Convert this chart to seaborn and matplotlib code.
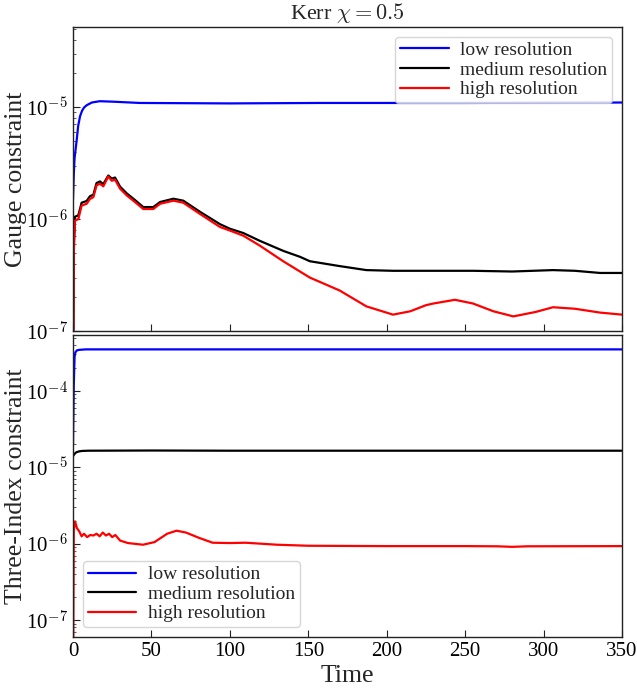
import numpy as np
import pandas as pd
import matplotlib
matplotlib.use("Agg")
import matplotlib.pyplot as plt
import matplotlib.ticker as mticker
import seaborn as sns

# ---------------- data ----------------
labels = ["low resolution", "medium resolution", "high resolution"]
colors = ["#0000ff", "#000000", "#ff0000"]

# Gauge constraint
t_gauge_low = [0, 0.5, 1, 2.3, 3.3, 4.5, 5.8, 7, 8.7, 12, 17, 25, 42.7, 100,
               157, 250, 350]
gauge_low = [1.5e-6, 2.5e-6, 3.5e-6, 5e-6, 6.8e-6, 8.3e-6, 9.3e-6, 9.9e-6,
             1.04e-5, 1.1e-5, 1.13e-5, 1.12e-5, 1.09e-5, 1.08e-5, 1.09e-5,
             1.09e-5, 1.1e-5]

t_gauge_med = [0, 0.5, 1.3, 3.4, 5.5, 8.7, 10.8, 13, 15, 17.2, 19.3, 22.5, 24.7,
               26.8, 30, 34.2, 39.5, 44.8, 51.2, 55.5, 64, 70.3, 81, 93.7, 100,
               108.6, 119, 134, 144.7, 151, 170, 187, 204, 230, 255, 280, 306,
               320, 336, 350]
gauge_med = [0.01e-6, 0.6e-6, 1.05e-6, 1.08e-6, 1.4e-6, 1.45e-6, 1.6e-6, 1.65e-6,
             2.1e-6, 2.17e-6, 2.05e-6, 2.45e-6, 2.3e-6, 2.35e-6, 1.95e-6, 1.7e-6,
             1.48e-6, 1.28e-6, 1.28e-6, 1.42e-6, 1.52e-6, 1.46e-6, 1.16e-6, 0.9e-6,
             0.82e-6, 0.75e-6, 0.64e-6, 0.52e-6, 0.46e-6, 0.42e-6, 0.38e-6,
             0.35e-6, 0.345e-6, 0.345e-6, 0.345e-6, 0.34e-6, 0.35e-6, 0.345e-6,
             0.33e-6, 0.33e-6]

t_gauge_high = [0, 0.5, 1.3, 3.4, 5.5, 8.7, 10.8, 13, 15, 17.2, 19.3, 22.5, 24.7,
                26.8, 30, 34.2, 39.5, 44.8, 51.2, 55.5, 64, 70.3, 81, 93.7, 100,
                108.6, 119, 134, 151, 170, 187, 204, 215, 225, 229.7, 243.5, 255,
                268, 280.7, 295, 306, 320, 336, 350]
gauge_high = [0.01e-6, 0.5e-6, 0.97e-6, 1.0e-6, 1.32e-6, 1.37e-6, 1.51e-6, 1.57e-6,
              2.0e-6, 2.07e-6, 1.96e-6, 2.4e-6, 2.2e-6, 2.25e-6, 1.87e-6, 1.63e-6,
              1.42e-6, 1.23e-6, 1.23e-6, 1.37e-6, 1.46e-6, 1.40e-6, 1.11e-6,
              0.85e-6, 0.79e-6, 0.71e-6, 0.58e-6, 0.42e-6, 0.30e-6, 0.23e-6,
              0.166e-6, 0.14e-6, 0.15e-6, 0.17e-6, 0.176e-6, 0.19e-6, 0.176e-6,
              0.15e-6, 0.135e-6, 0.148e-6, 0.163e-6, 0.158e-6, 0.146e-6, 0.14e-6]

# Three-Index constraint
t_three_low = [0, 0.5, 1, 1.5, 2.5, 4, 8, 50, 350]
three_low = [2e-5, 1.2e-4, 2.8e-4, 3.2e-4, 3.4e-4, 3.45e-4, 3.5e-4, 3.5e-4, 3.5e-4]

t_three_med = [0, 1, 2, 4, 6, 10, 50, 100, 200, 350]
three_med = [1.4e-5, 1.5e-5, 1.57e-5, 1.62e-5, 1.64e-5, 1.65e-5, 1.66e-5,
             1.65e-5, 1.65e-5, 1.65e-5]

t_three_high = [0, 0.5, 1.3, 2.5, 4, 5.5, 7, 9, 11, 13, 15, 17, 19, 21, 23, 25, 27,
                30, 35, 44.6, 52, 60, 66, 72, 80, 89, 100, 110, 130, 150, 200,
                250, 270, 280, 290, 350]
three_high = [0.01e-6, 1.5e-6, 1.96e-6, 1.6e-6, 1.45e-6, 1.25e-6, 1.35e-6, 1.22e-6,
              1.3e-6, 1.28e-6, 1.35e-6, 1.25e-6, 1.4e-6, 1.28e-6, 1.35e-6, 1.22e-6,
              1.3e-6, 1.1e-6, 1.02e-6, 0.97e-6, 1.05e-6, 1.35e-6, 1.48e-6, 1.4e-6,
              1.2e-6, 1.03e-6, 1.02e-6, 1.03e-6, 0.97e-6, 0.94e-6, 0.93e-6,
              0.93e-6, 0.925e-6, 0.91e-6, 0.925e-6, 0.93e-6]


def make_df(ts, vs):
    frames = []
    for lab, t, v in zip(labels, ts, vs):
        frames.append(pd.DataFrame({"Time": t, "value": v, "run": lab}))
    return pd.concat(frames, ignore_index=True)


df_gauge = make_df([t_gauge_low, t_gauge_med, t_gauge_high],
                   [gauge_low, gauge_med, gauge_high])
df_three = make_df([t_three_low, t_three_med, t_three_high],
                   [three_low, three_med, three_high])

# ---------------- style ----------------
sns.set_style("ticks")
plt.rcParams["font.family"] = ["Liberation Serif", "DejaVu Serif"]
plt.rcParams["mathtext.fontset"] = "cm"
plt.rcParams["xtick.direction"] = "in"
plt.rcParams["ytick.direction"] = "in"

fig = plt.figure(figsize=(6.37, 6.91), dpi=100)
ax1 = fig.add_axes([0.1146, 0.5210, 0.8619, 0.4399])
ax2 = fig.add_axes([0.1146, 0.0781, 0.8619, 0.4371], sharex=ax1)

palette = dict(zip(labels, colors))

for ax, df in [(ax1, df_gauge), (ax2, df_three)]:
    sns.lineplot(data=df, x="Time", y="value", hue="run", hue_order=labels,
                 palette=palette, estimator=None, sort=False, linewidth=1.6,
                 ax=ax)
    ax.set_yscale("log")
    ax.set_xlim(0, 350)
    for s in ax.spines.values():
        s.set_color("#222222")
        s.set_linewidth(1.0)
    ax.tick_params(which="major", length=5, width=0.8, labelsize=15,
                   colors="#222222", labelcolor="black")
    ax.tick_params(which="minor", length=2.5, width=0.6, colors="#444444")
    ax.yaxis.set_major_formatter(mticker.FuncFormatter(
        lambda v, p: "10$^{%d}$" % int(round(np.log10(v)))))

ax1.set_ylim(1e-7, 5.2e-5)
ax2.set_ylim(6e-8, 5.4e-4)
ax2.set_xticks([0, 50, 100, 150, 200, 250, 300, 350])
ax1.tick_params(axis="x", labelbottom=False)

ax1.set_xlabel("")
ax1.set_ylabel("Gauge constraint", fontsize=18.5)
ax2.set_ylabel("Three-Index constraint", fontsize=18.5)
ax1.yaxis.set_label_coords(-0.083, 0.5)
ax2.yaxis.set_label_coords(-0.083, 0.5)
ax2.set_xlabel("Time", fontsize=18.5, labelpad=3)
ax1.set_title(r"Kerr $\chi = 0.5$", fontsize=16, pad=6)

leg_kw = dict(fontsize=14, frameon=True, fancybox=True, edgecolor="#cccccc",
              handlelength=2.5, borderpad=0.25, labelspacing=0.1,
              handletextpad=0.6)
ax1.legend(loc="upper right", **leg_kw)
ax2.legend(loc="lower left", **leg_kw)

fig.savefig("out.png", dpi=100)
